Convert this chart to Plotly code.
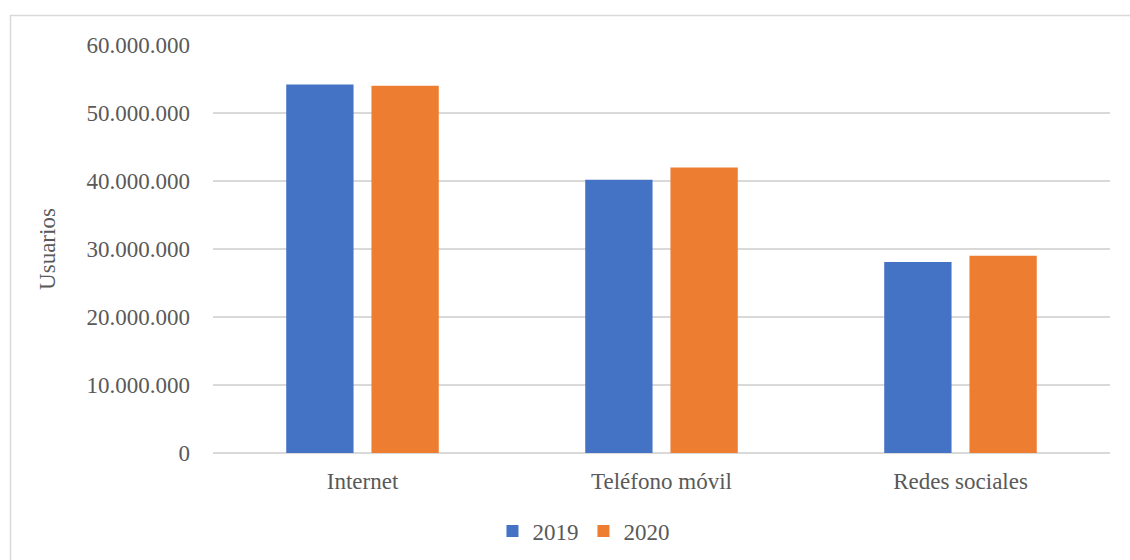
import plotly.graph_objects as go

categories = ["Internet", "Teléfono móvil", "Redes sociales"]
series_names = ["2019", "2020"]
values_2019 = [54200000, 40200000, 28100000]
values_2020 = [54000000, 42000000, 29000000]
colors = ["#4472C4", "#ED7D31"]

W, H = 1130, 560
L, R, T, B = 213, 20, 45, 107
pw, ph = W - L - R, H - T - B

fig = go.Figure()
for name, vals, c in zip(series_names, [values_2019, values_2020], colors):
    fig.add_trace(go.Bar(x=categories, y=vals, name=name, marker=dict(color=c, line=dict(width=0))))

fam = "Liberation Serif, Times New Roman, serif"
txt = dict(family=fam, size=23, color="#595959")
fig.update_layout(
    width=W, height=H,
    margin=dict(l=L, r=R, t=T, b=B, autoexpand=False),
    paper_bgcolor="white", plot_bgcolor="white",
    separators=",.",
    barmode="group", bargap=0.43, bargroupgap=0.21,
    font=txt,
    showlegend=True,
    legend=dict(orientation="h", x=0.413, xanchor="center", y=(453 - 531) / ph, yanchor="middle",
                font=txt, itemwidth=30, traceorder="normal"),
    xaxis=dict(showgrid=False, showline=False, ticks="", tickfont=txt,
               ticklabelstandoff=12, automargin=False),
    yaxis=dict(range=[0, 60000000], dtick=10000000, tickformat=",d",
               showgrid=True, gridcolor="#D9D9D9", gridwidth=1.5,
               zeroline=True, zerolinecolor="#D9D9D9", zerolinewidth=1.5,
               showline=False, ticks="", ticklabelstandoff=22, tickfont=txt, automargin=False,
               title=dict(text="Usuarios", font=txt, standoff=24)),
    shapes=[dict(type="rect", xref="paper", yref="paper",
                 x0=(10.5 - L) / pw, x1=(W + 2 - L) / pw,
                 y0=(T + ph - 15.5) / ph, y1=(T + ph - H - 3) / ph,
                 line=dict(color="#D9D9D9", width=1.5), fillcolor="rgba(0,0,0,0)", layer="below")],
)

fig.write_html("out.html")
